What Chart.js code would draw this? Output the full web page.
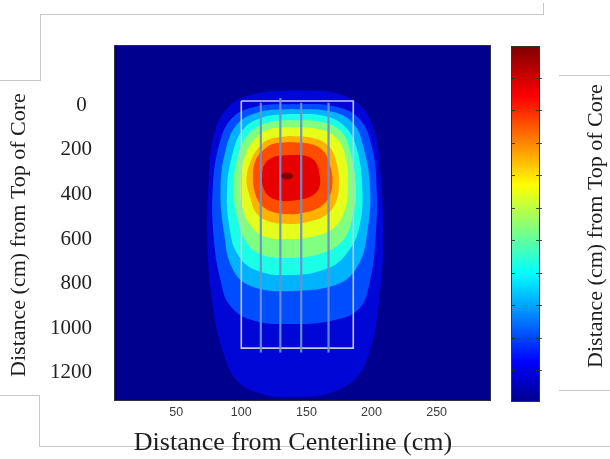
<!DOCTYPE html>
<html lang="en">
<head>
<meta charset="UTF-8">
<title>Contour - Distance from Top of Core</title>
<script src="https://cdn.jsdelivr.net/npm/chart.js"></script>
<style>
    body { margin: 0; background: #fff; }
    .wrap { position: relative; width: 610px; height: 459px; overflow: hidden; }
    .rule { position: absolute; background: #c8c8c8; }
    #main { position: absolute; left: 0; top: 0; }
    #cbar { position: absolute; left: 505px; top: 40px; }
</style>
</head>
<body>
<div class="wrap">
    <div class="rule" style="left:40px;top:14px;width:504px;height:1px"></div>
    <div class="rule" style="left:543px;top:3px;width:1px;height:12px"></div>
    <div class="rule" style="left:40px;top:14px;width:1px;height:67px"></div>
    <div class="rule" style="left:0;top:80px;width:41px;height:1px"></div>
    <div class="rule" style="left:559px;top:75px;width:51px;height:1px"></div>
    <div class="rule" style="left:559px;top:390px;width:51px;height:1px"></div>
    <div class="rule" style="left:0;top:395px;width:40px;height:1px"></div>
    <div class="rule" style="left:39px;top:395px;width:1px;height:52px"></div>
    <div class="rule" style="left:39px;top:446px;width:571px;height:1px"></div>
    <canvas id="main" width="610" height="459"></canvas>
    <canvas id="cbar" width="45" height="370"></canvas>
</div>

<script>
    // axes (cm)
    const xTicks = [50, 100, 150, 200, 250];
    const yTicks = [0, 200, 400, 600, 800, 1000, 1200];
    const xRange = [3, 291];
    const yRange = [-267, 1323];

    // filled contour outlines, outermost level first: [x, y]
    const level1 = [[141,-69],[172,-56],[191,-2],[202,110],[207,312],[209,604],[206,874],[200,1076],[189,1220],[168,1292],[141,1310],[116,1296],[97,1238],[86,1107],[78,896],[74,627],[75,335],[79,133],[90,7],[110,-51],[141,-69]];
    const level2 = [[139,-7],[170,3],[190,56],[200,178],[204,380],[203,604],[199,784],[191,910],[172,964],[139,982],[108,964],[91,896],[84,784],[79,604],[78,380],[83,178],[93,56],[113,3],[139,-7]];
    const level3 = [[138,16],[167,25],[185,74],[194,191],[199,380],[197,559],[191,703],[176,797],[139,833],[107,811],[93,730],[87,582],[84,380],[88,200],[97,83],[114,29],[138,16]];
    const level4 = [[137,38],[164,47],[180,97],[189,200],[193,380],[191,537],[183,649],[167,730],[137,762],[111,739],[97,667],[91,550],[89,380],[93,223],[101,110],[117,52],[137,38]];
    const level5 = [[137,65],[162,74],[177,119],[184,214],[188,380],[185,514],[177,613],[160,667],[137,685],[114,667],[103,604],[97,505],[94,380],[97,236],[105,133],[119,79],[137,65]];
    const level6 = [[137,97],[159,106],[173,146],[180,232],[182,371],[179,479],[171,550],[157,586],[137,600],[117,586],[107,537],[101,461],[99,357],[102,245],[109,160],[120,110],[137,97]];
    const level7 = [[136,137],[155,146],[167,182],[173,254],[175,357],[172,443],[164,497],[151,523],[136,532],[120,519],[111,479],[107,416],[104,335],[107,254],[113,191],[122,151],[136,137]];
    const level8 = [[136,164],[153,173],[163,205],[168,267],[170,344],[167,416],[159,461],[147,483],[135,488],[122,474],[114,438],[110,380],[109,312],[111,245],[117,200],[124,173],[136,164]];
    const level9 = [[137,223],[150,227],[157,254],[160,308],[160,366],[154,407],[143,425],[132,429],[122,411],[117,371],[116,317],[118,263],[125,232],[137,223]];
    const level10 = [[135,301],[138,306],[140,317],[138,328],[135,333],[132,328],[130,317],[132,306],[135,301]];
    const levels = [level1, level2, level3, level4, level5, level6, level7, level8, level9, level10];

    // jet colours, background first
    const backgroundColor = '#00008f';
    const levelColors = ['#0006d6', '#004dff', '#00b3ff', '#1affe6', '#80ff80', '#e6ff1a', '#ffb300', '#ff4d00', '#e60000', '#800000'];

    // core outline and rods
    const coreX = [100, 186];
    const coreY = [-20, 1090];
    const rodX = [115, 130, 146, 167];
    const rodTop = [-12, -33, -12, -12];
    const rodBottom = [1110, 1110, 1110, 1110];

    // colour bar (labels are cut off in the original)
    const cbRange = [0.06, 10.95];
    const cbTicks = [1, 2, 3, 4, 5, 6, 7, 8, 9, 10];

    const serif = "'Liberation Serif', 'Times New Roman', serif";

    const datasets = levels.map((pts, i) => ({
        data: pts.map(([x, y]) => ({x, y})),
        showLine: true,
        fill: 'shape',
        backgroundColor: levelColors[i],
        borderColor: levelColors[i],
        borderWidth: 0,
        pointRadius: 0,
        tension: 0.4,
        order: 100 - i
    }));

    datasets.push({
        data: [
            {x: coreX[0], y: coreY[0]}, {x: coreX[1], y: coreY[0]},
            {x: coreX[1], y: coreY[1]}, {x: coreX[0], y: coreY[1]},
            {x: coreX[0], y: coreY[0]}
        ],
        showLine: true, fill: false, borderColor: '#c4c8de', borderWidth: 1.6,
        pointRadius: 0, tension: 0, order: 2
    });

    rodX.forEach((x, i) => {
        datasets.push({
            data: [{x, y: rodTop[i]}, {x, y: rodBottom[i]}],
            showLine: true, fill: false, borderColor: 'rgba(105,145,205,0.95)', borderWidth: 2.2,
            pointRadius: 0, order: 1
        });
    });

    const plotFrame = {
        id: 'plotFrame',
        beforeDatasetsDraw(chart) {
            const {ctx, chartArea: a} = chart;
            ctx.save();
            ctx.fillStyle = backgroundColor;
            ctx.fillRect(a.left, a.top, a.right - a.left, a.bottom - a.top);
            ctx.restore();
        },
        afterDatasetsDraw(chart) {
            const {ctx, chartArea: a} = chart;
            ctx.save();
            ctx.strokeStyle = '#333';
            ctx.lineWidth = 1;
            ctx.strokeRect(a.left - 0.5, a.top - 0.5, a.right - a.left + 1, a.bottom - a.top + 1);
            ctx.restore();
        },
        afterDraw(chart) {
            const ctx = chart.ctx;
            ctx.save();
            ctx.fillStyle = '#1e1e1e';
            ctx.textAlign = 'center';
            ctx.font = '26px ' + serif;
            ctx.textBaseline = 'alphabetic';
            ctx.fillText('Distance from Centerline (cm)', 293, 450);
            ctx.font = '22px ' + serif;
            ctx.textBaseline = 'middle';
            [[19, 235], [596, 226]].forEach(([x, y]) => {
                ctx.save();
                ctx.translate(x, y);
                ctx.rotate(-Math.PI / 2);
                ctx.fillText('Distance (cm) from Top of Core', 0, 0);
                ctx.restore();
            });
            ctx.restore();
        }
    };

    new Chart(document.getElementById('main'), {
        type: 'scatter',
        data: { datasets },
        options: {
            responsive: false,
            animation: false,
            layout: { padding: { left: 0, top: 46, right: 120, bottom: 0 } },
            plugins: { legend: { display: false }, tooltip: { enabled: false } },
            scales: {
                x: {
                    type: 'linear', min: xRange[0], max: xRange[1],
                    afterBuildTicks: s => { s.ticks = xTicks.map(v => ({value: v})); },
                    afterFit: s => { s.height = 59; },
                    grid: { display: false, drawTicks: false },
                    border: { display: false },
                    ticks: { padding: 5, color: '#3a3a3a', font: { family: "'Liberation Sans', Arial, sans-serif", size: 12.5 } }
                },
                y: {
                    type: 'linear', reverse: true, min: yRange[0], max: yRange[1],
                    afterBuildTicks: s => { s.ticks = yTicks.map(v => ({value: v})); },
                    afterFit: s => { s.width = 115; },
                    grid: { display: false, drawTicks: false },
                    border: { display: false },
                    ticks: {
                        padding: 23, color: '#222', font: { family: serif, size: 21 },
                        callback: v => v === 0 ? '0 ' : String(v)
                    }
                }
            }
        },
        plugins: [plotFrame]
    });

    // colour bar
    function jetGradient(chart) {
        const a = chart.chartArea;
        if (!a) return '#00ffff';
        const g = chart.ctx.createLinearGradient(0, a.bottom, 0, a.top);
        g.addColorStop(0, '#00008f');
        g.addColorStop(0.11, '#0000ff');
        g.addColorStop(0.36, '#00ffff');
        g.addColorStop(0.61, '#ffff00');
        g.addColorStop(0.86, '#ff0000');
        g.addColorStop(1, '#800000');
        return g;
    }

    const cbarFrame = {
        id: 'cbarFrame',
        afterDraw(chart) {
            const {ctx, chartArea: a} = chart;
            const y = chart.scales.y;
            ctx.save();
            ctx.strokeStyle = 'rgba(40,40,40,0.8)';
            ctx.lineWidth = 1;
            cbTicks.forEach(v => {
                const py = Math.round(y.getPixelForValue(v)) + 0.5;
                ctx.beginPath();
                ctx.moveTo(a.right - 3, py); ctx.lineTo(a.right + 3, py);
                ctx.moveTo(a.left, py); ctx.lineTo(a.left + 3, py);
                ctx.stroke();
            });
            ctx.strokeStyle = '#333';
            ctx.strokeRect(a.left - 0.5, a.top - 0.5, a.right - a.left + 1, a.bottom - a.top + 1);
            ctx.restore();
        }
    };

    new Chart(document.getElementById('cbar'), {
        type: 'bar',
        data: {
            labels: [''],
            datasets: [{
                data: [[cbRange[0], cbRange[1]]],
                backgroundColor: ctx => jetGradient(ctx.chart),
                barPercentage: 1, categoryPercentage: 1, borderWidth: 0
            }]
        },
        options: {
            responsive: false,
            animation: false,
            layout: { padding: { left: 7, right: 11, top: 7, bottom: 9 } },
            plugins: { legend: { display: false }, tooltip: { enabled: false } },
            scales: {
                x: { display: false },
                y: { display: false, min: cbRange[0], max: cbRange[1] }
            }
        },
        plugins: [cbarFrame]
    });
</script>
</body>
</html>
